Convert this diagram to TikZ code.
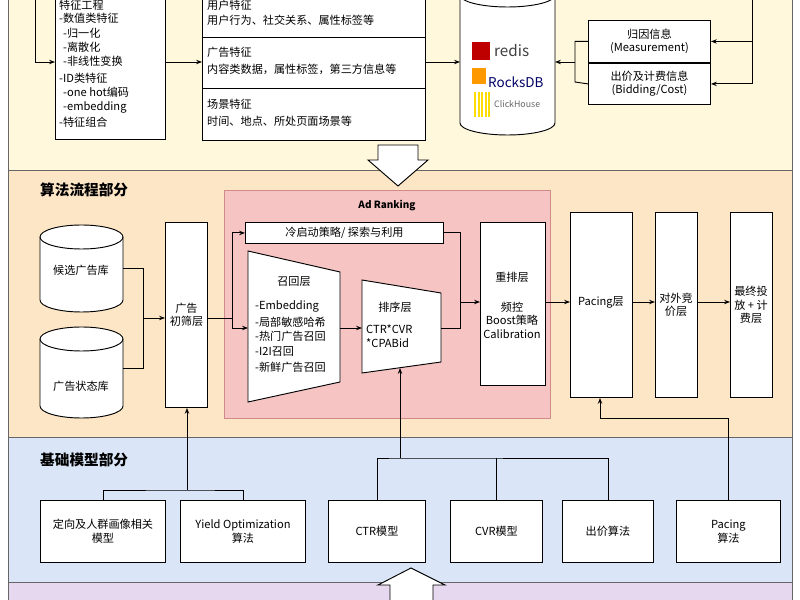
\documentclass[tikz,border=0pt]{standalone}
\usepackage{fontspec}
\setmainfont{Noto Sans CJK SC}
\usetikzlibrary{arrows.meta,positioning,calc}
\definecolor{bandY}{HTML}{FFF8DC}
\definecolor{bandO}{HTML}{FCE6C6}
\definecolor{bandB}{HTML}{DAE6F8}
\definecolor{bandP}{HTML}{E6D8EE}
\definecolor{rankP}{HTML}{F7C4C4}
\definecolor{rankE}{HTML}{D08A8A}
\tikzset{
  box/.style={draw,fill=white,thick,inner sep=2pt,align=center},
  txt/.style={font=\fontsize{9.5}{11.5}\selectfont,align=center,inner sep=0pt},
  ltxt/.style={font=\fontsize{9.5}{11.5}\selectfont,anchor=west,inner sep=0pt},
  ttl/.style={font=\fontsize{12.5}{14}\selectfont\bfseries,anchor=west,inner sep=0pt},
  arr/.style={thick,-{Stealth[length=5pt]}},
  ln/.style={thick},
  band/.style={draw=black!60,thick},
  hollow/.style={draw,fill=white,thick},
}
% cylinder from x1,y1 (top) to x2,y2 (bottom)
\newcommand{\dbcyl}[4]{%
  \draw[thick,fill=white] (#1,#2) -- (#1,#4) arc[start angle=180,end angle=0,x radius={(#3-#1)/2},y radius=12] -- (#3,#2);
  \draw[thick,fill=white] ({(#1+#3)/2},#2) ellipse[x radius={(#3-#1)/2},y radius=12];}
\begin{document}
\begin{tikzpicture}[x=0.03cm,y=-0.03cm]
\useasboundingbox (0,0) rectangle (800,600);
\begin{scope}
\clip (0,0) rectangle (800,600);
% bands
\draw[band,fill=bandY] (8,-10) rectangle (792,170);
\draw[band,fill=bandO] (8,170) rectangle (792,437);
\draw[band,fill=bandB] (8,437) rectangle (792,582);
\draw[band,fill=bandP] (8,582) rectangle (792,610);

% top part: features
\node[box,minimum width=110*0.03cm,minimum height=150*0.03cm,anchor=south west] (fe) at (55,140) {};
\foreach \t/\yy/\dx in {特征工程/5/0,-数值类特征/18/0,-归一化/33/4,-离散化/47/4,-非线性变换/61/4,-ID类特征/78/0,-one hot编码/92/4,-embedding/107/4,-特征组合/122/0}
  \node[ltxt] at (59+\dx,\yy) {\t};
\draw[box] (202,-10) rectangle (425,140);
\draw[thick] (202,37) -- (425,37) (202,88) -- (425,88);
\node[ltxt] at (207,5) {用户特征};
\node[ltxt] at (207,20) {用户行为、社交关系、属性标签等};
\node[ltxt] at (207,52) {广告特征};
\node[ltxt] at (207,69) {内容类数据，属性标签，第三方信息等};
\node[ltxt] at (207,104) {场景特征};
\node[ltxt] at (207,121) {时间、地点、所处页面场景等};
\coordinate (feL) at (55,62);
\coordinate (featL) at (202,62);
\coordinate (featR) at (425,62);
\draw[arr] (35,-10) |- (feL);
\draw[arr] (165,62) -- (featL);

% storage
\dbcyl{460}{-5}{555}{123}
\coordinate (dbL) at (460,62);
\coordinate (dbR) at (555,62);
\draw[arr] (featR) -- (dbL);
\fill[red!75!black] (472,42) rectangle (490,60);
\node[ltxt,text=black!75,font=\fontsize{13}{14}\selectfont] at (494,51) {redis};
\fill[orange!80!yellow] (472,68) rectangle (486,84);
\node[ltxt,text=blue!40!black,font=\fontsize{11.5}{12}\selectfont] at (488,82) {RocksDB};
\foreach \i in {0,...,4} \fill[yellow!80!orange] (474+\i*3.5,92) rectangle (476+\i*3.5,117);
\node[ltxt,text=black!60,font=\fontsize{7.5}{9}\selectfont] at (494,104) {ClickHouse};

\node[box,minimum width=122*0.03cm,minimum height=42*0.03cm,anchor=north west,txt] (meas) at (588,20) {归因信息\\(Measurement)};
\node[box,minimum width=122*0.03cm,minimum height=41*0.03cm,anchor=north,txt] (bid) at (meas.south) {出价及计费信息\\(Bidding/Cost)};
\draw[ln] (meas.west) -| (575,82) -- (bid.west);
\draw[arr] (575,62) -- (dbR);
\draw[arr] (752,-10) |- (meas.east);
\draw[arr] (752,40) |- (bid.east);

\draw[hollow] (378,145) -- (418,145) -- (418,160) -- (428,160) -- (398,186) -- (368,160) -- (378,160) -- cycle;

% algorithm flow
\node[ttl] at (40,190) {算法流程部分};
\dbcyl{40}{237}{123}{300}
\node[txt] (cand) at (81,270) {候选广告库};
\dbcyl{40}{339}{123}{406}
\node[txt] (state) at (81,386) {广告状态库};
\node[box,minimum width=42*0.03cm,minimum height=185*0.03cm,anchor=north west] (pre) at (165,222) {};
\node[txt] at (pre.center) {广告\\初筛层};
\draw[ln] (123,268) -| (143,368) -- (123,368);
\draw[arr] (143,318) -- (pre.west |- 0,318);

\draw[draw=rankE,thick,fill=rankP] (224,190) rectangle (550,418);
\node[txt,font=\fontsize{8.5}{10}\selectfont\bfseries] at (387,206) {Ad Ranking};
\node[box,minimum width=198*0.03cm,minimum height=21*0.03cm,anchor=north west,txt,inner sep=0pt] (cold) at (245,222) {冷启动策略/ 探索与利用};
\draw[thick,fill=white] (248,251) -- (340,272) -- (340,382) -- (248,402) -- cycle;
\coordinate (recL) at (248,328);
\coordinate (recR) at (340,328);
\node[txt] at (294,282) {召回层};
\foreach \t/\yy in {-Embedding/306,-局部敏感哈希/322,-热门广告召回/336,-I2I召回/352,-新鲜广告召回/367}
  \node[ltxt] at (255,\yy) {\t};
\draw[arr] (pre.east |- 0,318) -- (232,318) |- (cold.west);
\draw[arr] (232,318) |- (recL);
\draw[thick,fill=white] (362,280) -- (441,293) -- (441,362) -- (362,373) -- cycle;
\coordinate (sortL) at (362,328);
\coordinate (sortR) at (441,328);
\coordinate (sortB) at (400,368);
\node[txt] at (395,307) {排序层};
\node[ltxt] at (366,329) {CTR*CVR};
\node[ltxt] at (366,343) {*CPABid};
\draw[arr] (recR) -- (sortL);
\node[box,minimum width=65*0.03cm,minimum height=163*0.03cm,anchor=north west] (rerank) at (480,222) {};
\node[txt] at (512,277) {重排层};
\node[txt] at (512,320) {频控\\Boost策略\\Calibration};
\draw[ln] (cold.east) -| (460,328) -- (sortR);
\draw[arr] (460,302) -- (rerank.west |- 0,302);
\node[box,minimum width=62*0.03cm,minimum height=185*0.03cm,anchor=north west] (pacing) at (570,212) {};
\node[txt] at (601,302) {Pacing层};
\node[box,minimum width=42*0.03cm,minimum height=185*0.03cm,anchor=north west] (ext) at (655,212) {};
\node[txt] at (676,305) {对外竞\\价层};
\node[box,minimum width=42*0.03cm,minimum height=185*0.03cm,anchor=north west] (final) at (730,212) {};
\node[txt] at (751,305) {最终投\\放 + 计\\费层};
\draw[arr] (rerank.east |- 0,302) -- (pacing.west |- 0,302);
\draw[arr] (pacing.east |- 0,302) -- (ext.west |- 0,302);
\draw[arr] (ext.east |- 0,302) -- (final.west |- 0,302);

% base models
\node[ttl] at (40,460) {基础模型部分};
\node[box,txt,minimum width=125*0.03cm,minimum height=62*0.03cm,anchor=north west] (target) at (40,500) {定向及人群画像相关\\模型};
\node[box,txt,minimum width=125*0.03cm,minimum height=62*0.03cm,anchor=north west] (yield) at (180,500) {Yield Optimization\\算法};
\node[box,txt,minimum width=97*0.03cm,minimum height=62*0.03cm,anchor=north west] (ctr) at (328,500) {CTR模型};
\node[box,txt,minimum width=92*0.03cm,minimum height=62*0.03cm,anchor=north west] (cvr) at (450,500) {CVR模型};
\node[box,txt,minimum width=91*0.03cm,minimum height=62*0.03cm,anchor=north west] (bidalg) at (562,500) {出价算法};
\node[box,txt,minimum width=104*0.03cm,minimum height=62*0.03cm,anchor=north west] (pacalg) at (676,500) {Pacing\\算法};
\draw[ln] (target.north) |- (187,490) -| (yield.north);
\draw[arr] (187,490) -- (pre.south -| 187,0);
\draw[ln] (ctr.north) |- (400,458) -| (bidalg.north);
\draw[ln] (cvr.north) -- (cvr.north |- 0,458);
\draw[arr] (400,458) -- (sortB);
\draw[arr] (pacalg.north) |- (600,418) -- (pacing.south -| 600,0);

\draw[hollow] (390,600) -- (390,585) -- (378,585) -- (411,568) -- (445,585) -- (433,585) -- (433,600);
\end{scope}
\end{tikzpicture}
\end{document}
